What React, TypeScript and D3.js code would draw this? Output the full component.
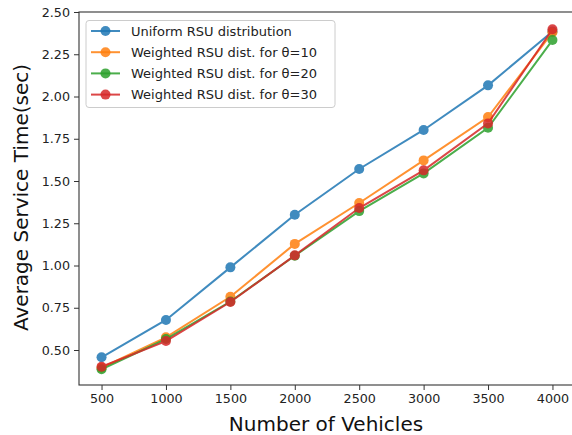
import React, { useEffect, useRef } from 'react';
import * as d3 from 'd3';

const vehicles = [500, 1000, 1500, 2000, 2500, 3000, 3500, 4000];
const uniform = [0.457, 0.678, 0.989, 1.300, 1.571, 1.802, 2.066, 2.385];
const theta10 = [0.395, 0.575, 0.815, 1.128, 1.370, 1.622, 1.878, 2.380];
const theta20 = [0.386, 0.565, 0.787, 1.058, 1.322, 1.545, 1.815, 2.334];
const theta30 = [0.401, 0.553, 0.784, 1.060, 1.340, 1.563, 1.841, 2.398];
const seriesNames = [
  'Uniform RSU distribution',
  'Weighted RSU dist. for θ=10',
  'Weighted RSU dist. for θ=20',
  'Weighted RSU dist. for θ=30',
];
const xTicks = [500, 1000, 1500, 2000, 2500, 3000, 3500, 4000];
const yTicks = [0.5, 0.75, 1.0, 1.25, 1.5, 1.75, 2.0, 2.25, 2.5];

const colors = ['#1f77b4', '#ff7f0e', '#2ca02c', '#d62728'];

const W = 572;
const H = 435;

const ServiceTimeChart = () => {
  const ref = useRef<SVGSVGElement>(null);

  useEffect(() => {
    const svg = d3.select(ref.current);
    svg.selectAll('*').remove();

    const left = 79, right = 575, top = 12, bottom = 385;
    const font = 'DejaVu Sans, sans-serif';

    const x = d3.scaleLinear().domain([325, 4175]).range([left, right]);
    const y = d3.scaleLinear().domain([0.293, 2.5]).range([bottom, top]);

    svg.append('rect').attr('width', W).attr('height', H).attr('fill', '#fff');

    // x axis
    const xAxis = svg.append('g')
      .attr('transform', `translate(0,${bottom})`)
      .call(d3.axisBottom(x).tickValues(xTicks).tickSize(5).tickPadding(4).tickFormat(d3.format('d')));
    xAxis.select('.domain').remove();
    xAxis.selectAll('text').attr('font-family', font).attr('font-size', 12.7).attr('fill', '#222');
    xAxis.selectAll('line').attr('stroke', '#333');

    // y axis
    const yAxis = svg.append('g')
      .attr('transform', `translate(${left},0)`)
      .call(d3.axisLeft(y).tickValues(yTicks).tickSize(5).tickPadding(4).tickFormat(d3.format('.2f')));
    yAxis.select('.domain').remove();
    yAxis.selectAll('text').attr('font-family', font).attr('font-size', 12.7).attr('fill', '#222');
    yAxis.selectAll('line').attr('stroke', '#333');

    // spines
    svg.append('rect')
      .attr('x', left).attr('y', top)
      .attr('width', right - left).attr('height', bottom - top)
      .attr('fill', 'none').attr('stroke', '#333').attr('stroke-width', 1.1);

    const allSeries = [uniform, theta10, theta20, theta30];
    const line = d3.line<number>()
      .x((_, i) => x(vehicles[i]))
      .y(d => y(d));

    allSeries.forEach((vals, k) => {
      const g = svg.append('g').attr('opacity', 0.85);
      g.append('path')
        .datum(vals)
        .attr('fill', 'none')
        .attr('stroke', colors[k])
        .attr('stroke-width', 2)
        .attr('d', line);
      g.selectAll('circle')
        .data(vals)
        .join('circle')
        .attr('cx', (_, i) => x(vehicles[i]))
        .attr('cy', d => y(d))
        .attr('r', 5)
        .attr('fill', colors[k]);
    });

    // legend
    const lg = svg.append('g');
    lg.append('rect')
      .attr('x', 86).attr('y', 20.5)
      .attr('width', 249).attr('height', 87)
      .attr('rx', 3)
      .attr('fill', '#fff').attr('fill-opacity', 0.8)
      .attr('stroke', '#ccc');
    seriesNames.forEach((name, k) => {
      const ly = 31 + k * 21.2;
      const row = lg.append('g');
      row.append('line')
        .attr('x1', 91).attr('x2', 120)
        .attr('y1', ly).attr('y2', ly)
        .attr('stroke', colors[k]).attr('stroke-width', 2).attr('opacity', 0.85);
      row.append('circle')
        .attr('cx', 105.5).attr('cy', ly).attr('r', 5)
        .attr('fill', colors[k]).attr('opacity', 0.85);
      row.append('text')
        .attr('x', 131).attr('y', ly + 4.6)
        .attr('font-family', font).attr('font-size', 13)
        .attr('fill', '#222')
        .text(name);
    });

    // axis labels
    svg.append('text')
      .attr('x', 326).attr('y', 430.7)
      .attr('text-anchor', 'middle')
      .attr('font-family', font).attr('font-size', 20)
      .attr('fill', '#111')
      .text('Number of Vehicles');

    svg.append('text')
      .attr('transform', `translate(27.5,197.5) rotate(-90)`)
      .attr('text-anchor', 'middle')
      .attr('font-family', font).attr('font-size', 20)
      .attr('fill', '#111')
      .text('Average Service Time(sec)');
  }, []);

  return <svg ref={ref} width={W} height={H}></svg>;
};

export default function App() {
  return (
    <div style={{ position: 'fixed', left: 0, top: 0 }}>
      <ServiceTimeChart />
    </div>
  );
}
